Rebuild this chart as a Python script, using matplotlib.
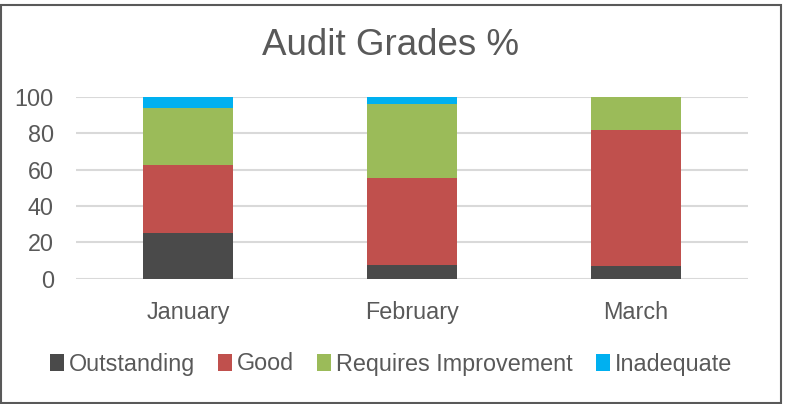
import numpy as np
import matplotlib.pyplot as plt
from matplotlib.patches import Rectangle

months = ['January', 'February', 'March']
outstanding = [25, 7.4, 7]
good = [37.5, 48.1, 75]
requires_improvement = [31.25, 40.8, 18]
inadequate = [6.25, 3.7, 0]

series = [('Outstanding', outstanding, '#4a4a4a'),
          ('Good', good, '#c0504d'),
          ('Requires Improvement', requires_improvement, '#9bbb59'),
          ('Inadequate', inadequate, '#00b0f0')]

plt.rcParams['font.family'] = ['Liberation Sans', 'DejaVu Sans']
txt = '#595959'

fig = plt.figure(figsize=(7.94, 4.04), dpi=100)
ax = fig.add_axes([76 / 794, 1 - 278.5 / 404, 672 / 794, 181.5 / 404])

x = np.arange(len(months))
bottom = np.zeros(len(months))
for name, vals, col in series:
    ax.bar(x, vals, 0.4, bottom=bottom, color=col, label=name, zorder=2)
    bottom += np.array(vals)

ax.set_xlim(-0.5, 2.5)
ax.set_ylim(0, 100)
ax.set_yticks(range(0, 101, 20))
ax.set_xticks(x)
ax.set_xticklabels(months)
ax.grid(axis='y', color='#d9d9d9', linewidth=1.5, zorder=0)
for s in ax.spines.values():
    s.set_visible(False)
ax.tick_params(length=0, labelsize=16.8, colors=txt, pad=0)
ax.tick_params(axis='y', pad=16)
ax.tick_params(axis='x', pad=16)

fig.text(390 / 794, 1 - 55 / 404, 'Audit Grades %', fontsize=26.5, color=txt,
         ha='center', va='baseline')

leg = fig.legend(loc='center', bbox_to_anchor=(391 / 794, 1 - 364 / 404), ncol=4,
                 frameon=False, fontsize=16.8, handlelength=0.6, handleheight=0.7,
                 handletextpad=0.2, columnspacing=1.0, borderaxespad=0)
for t in leg.get_texts():
    t.set_color(txt)

fig.patches.append(Rectangle((1 / 794, 1 / 404), 780 / 794, 398 / 404,
                             transform=fig.transFigure, fill=False,
                             edgecolor='#595959', linewidth=1.5))

fig.savefig('out.png', dpi=100)
